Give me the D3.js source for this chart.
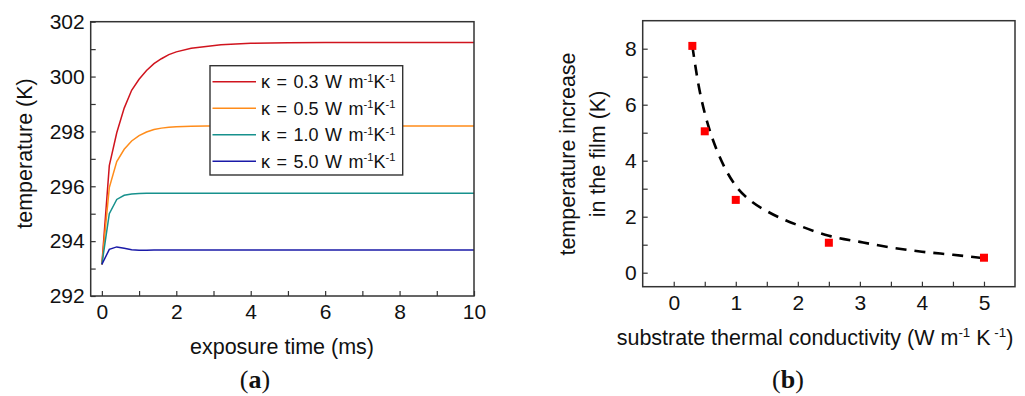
<!DOCTYPE html>
<html>
<head>
<meta charset="utf-8">
<script src="https://cdn.jsdelivr.net/npm/d3@7"></script>
<style>
  body { margin: 0; background: #fff; }
  svg text { font-family: "Liberation Sans", Arial, sans-serif; fill: #111; }
  .lbl { font-family: "Liberation Serif", "Times New Roman", serif; }
</style>
</head>
<body>
<div id="chart"></div>
<script>
// ---- panel (a) data: temperature vs exposure time ----
var times = [0, 0.2, 0.4, 0.6, 0.8, 1.0, 1.2, 1.4, 1.6, 1.8, 2.0, 2.4, 2.8, 3.2, 3.6, 4, 5, 6, 8, 10];
var temp03 = [293.15, 296.75, 297.95, 298.85, 299.5, 299.9, 300.22, 300.47, 300.65, 300.8, 300.9, 301.03, 301.1, 301.16, 301.19, 301.21, 301.23, 301.24, 301.24, 301.24];
var temp05 = [293.15, 295.95, 296.9, 297.35, 297.65, 297.85, 297.98, 298.07, 298.12, 298.15, 298.17, 298.19, 298.2, 298.2, 298.2, 298.2, 298.2, 298.2, 298.2, 298.2];
var temp10 = [293.15, 295.0, 295.52, 295.67, 295.72, 295.74, 295.75, 295.75, 295.75, 295.75, 295.75, 295.75, 295.75, 295.75, 295.75, 295.75, 295.75, 295.75, 295.75, 295.75];
var temp50 = [293.15, 293.7, 293.79, 293.74, 293.69, 293.67, 293.67, 293.68, 293.68, 293.68, 293.68, 293.68, 293.68, 293.68, 293.68, 293.68, 293.68, 293.68, 293.68, 293.68];
var seriesNames = ["0.3", "0.5", "1.0", "5.0"];
var seriesColors = ["#d0141e", "#ff8c1a", "#17918d", "#1a1aa8"];
var timeTicks = [0, 2, 4, 6, 8, 10];
var tempTicks = [292, 294, 296, 298, 300, 302];

// ---- panel (b) data: temperature increase vs substrate conductivity ----
var kappa = [0.3, 0.5, 1.0, 2.5, 5.0];
var dT = [8.1, 5.05, 2.6, 1.07, 0.535];
var fitK = [0.3, 0.4, 0.5, 0.6, 0.7, 0.8, 1.0, 1.25, 1.5, 1.75, 2.0, 2.5, 3.0, 3.5, 4.0, 4.5, 5.0];
var fitT = [8.1, 6.7, 5.7, 4.95, 4.35, 3.85, 3.1, 2.55, 2.2, 1.92, 1.7, 1.32, 1.1, 0.9, 0.75, 0.64, 0.52];
var kTicks = [0, 1, 2, 3, 4, 5];
var dTTicks = [0, 2, 4, 6, 8];

var svg = d3.select("#chart").append("svg")
  .attr("width", 1025)
  .attr("height", 396);

function addTicks(g, axis, major, minor, pad) {
  g.append("g").call(axis.tickValues(minor).tickSize(-5).tickFormat(""));
  g.append("g").call(axis.tickValues(major).tickSize(-5).tickPadding(pad).tickFormat(d3.format("d")));
  g.selectAll(".domain").remove();
  g.selectAll("line").attr("stroke", "#333").attr("stroke-width", 1.2);
  g.selectAll("text").filter(function() { return this.textContent === ""; }).remove();
  g.selectAll("text").style("font-size", "21px").attr("fill", "#111");
}

// parts: [text, isSuperscript]; shifts baseline up (px) for superscripts and back after
function richText(t, parts, shift) {
  var up = false;
  parts.forEach(function(p) {
    var ts = t.append("tspan").text(p[0]);
    if (p[1]) {
      ts.attr("font-size", "0.62em").attr("dy", -shift);
      up = true;
    } else if (up) {
      ts.attr("dy", shift);
      up = false;
    }
  });
}

// ================= panel (a) =================
var xa = d3.scaleLinear().domain([-0.3, 10]).range([90.7, 474]);
var ya = d3.scaleLinear().domain([292, 302]).range([296, 21.7]);

var ga = svg.append("g");
var axA = ga.append("g").attr("transform", "translate(0," + ya(292) + ")");
addTicks(axA, d3.axisBottom(xa), timeTicks, [1, 3, 5, 7, 9], 8.5);
var ayA = ga.append("g").attr("transform", "translate(" + xa(-0.3) + ",0)");
addTicks(ayA, d3.axisLeft(ya), tempTicks, [293, 295, 297, 299, 301], 6);

var tempSeries = [temp03, temp05, temp10, temp50];
var lineA = d3.line()
  .x(function(d, i) { return xa(times[i]); })
  .y(function(d) { return ya(d); });

tempSeries.forEach(function(s, k) {
  ga.append("path")
    .datum(s)
    .attr("d", lineA)
    .attr("fill", "none")
    .attr("stroke", seriesColors[k])
    .attr("stroke-width", 1.5);
});

ga.append("rect")
  .attr("x", xa(-0.3)).attr("y", ya(302))
  .attr("width", xa(10) - xa(-0.3)).attr("height", ya(292) - ya(302))
  .attr("fill", "none").attr("stroke", "#333").attr("stroke-width", 1.5);

// legend
var leg = ga.append("g").attr("transform", "translate(210,65.7)");
leg.append("rect").attr("width", 192.7).attr("height", 109.3)
  .attr("fill", "#fff").attr("stroke", "#333").attr("stroke-width", 1.4);
seriesNames.forEach(function(n, k) {
  var yy = 16 + k * 26.5;
  leg.append("line").attr("x1", 2.5).attr("x2", 46).attr("y1", yy).attr("y2", yy)
    .attr("stroke", seriesColors[k]).attr("stroke-width", 1.5);
  var t = leg.append("text").attr("x", 51).attr("y", yy + 6.5)
    .style("font-size", "18px").attr("word-spacing", "1.5px");
  richText(t, [["\u03ba = " + n + " W m", false], ["-1", true], ["K", false], ["-1", true]], 6.5);
});

ga.append("text")
  .attr("x", 282).attr("y", 353.5)
  .attr("text-anchor", "middle")
  .style("font-size", "21.5px")
  .text("exposure time (ms)");

ga.append("text")
  .attr("transform", "translate(32,153.5) rotate(-90)")
  .attr("text-anchor", "middle")
  .style("font-size", "21.5px")
  .text("temperature (K)");

var la = ga.append("text").attr("class", "lbl")
  .attr("x", 255).attr("y", 388).attr("text-anchor", "middle")
  .style("font-size", "26px");
la.append("tspan").text("(");
la.append("tspan").attr("font-weight", "bold").text("a");
la.append("tspan").text(")");

// ================= panel (b) =================
var xb = d3.scaleLinear().domain([-0.5, 5.5]).range([642.7, 1015]);
var yb = d3.scaleLinear().domain([-0.5, 9]).range([286.7, 20.7]);

var gb = svg.append("g");
var axB = gb.append("g").attr("transform", "translate(0," + yb(-0.5) + ")");
addTicks(axB, d3.axisBottom(xb), kTicks, [0.5, 1.5, 2.5, 3.5, 4.5], 8.8);
var ayB = gb.append("g").attr("transform", "translate(" + xb(-0.5) + ",0)");
addTicks(ayB, d3.axisLeft(yb), dTTicks, [1, 3, 5, 7], 6);

var lineB = d3.line()
  .x(function(d, i) { return xb(fitK[i]); })
  .y(function(d) { return yb(d); })
  .curve(d3.curveMonotoneX);

gb.append("path")
  .datum(fitT)
  .attr("d", lineB)
  .attr("fill", "none")
  .attr("stroke", "#000")
  .attr("stroke-width", 2.6)
  .attr("stroke-dasharray", "11,8");

gb.selectAll("rect.pt")
  .data(kappa)
  .enter().append("rect")
  .attr("class", "pt")
  .attr("x", function(d) { return xb(d) - 4; })
  .attr("y", function(d, i) { return yb(dT[i]) - 4; })
  .attr("width", 8).attr("height", 8)
  .attr("fill", "#ff0000");

gb.append("rect")
  .attr("x", xb(-0.5)).attr("y", yb(9))
  .attr("width", xb(5.5) - xb(-0.5)).attr("height", yb(-0.5) - yb(9))
  .attr("fill", "none").attr("stroke", "#333").attr("stroke-width", 1.5);

var xt = gb.append("text")
  .attr("x", 815).attr("y", 344.5)
  .attr("text-anchor", "middle")
  .style("font-size", "21.5px");
richText(xt, [["substrate thermal conductivity (W m", false], ["-1", true], [" K", false], [" -1", true], [")", false]], 8);

gb.append("text")
  .attr("transform", "translate(575,154) rotate(-90)")
  .attr("text-anchor", "middle")
  .style("font-size", "21.5px")
  .text("temperature increase");
gb.append("text")
  .attr("transform", "translate(604.5,154) rotate(-90)")
  .attr("text-anchor", "middle")
  .style("font-size", "21.5px")
  .text("in the film (K)");

var lb = gb.append("text").attr("class", "lbl")
  .attr("x", 788).attr("y", 388).attr("text-anchor", "middle")
  .style("font-size", "26px");
lb.append("tspan").text("(");
lb.append("tspan").attr("font-weight", "bold").text("b");
lb.append("tspan").text(")");
</script>
</body>
</html>
